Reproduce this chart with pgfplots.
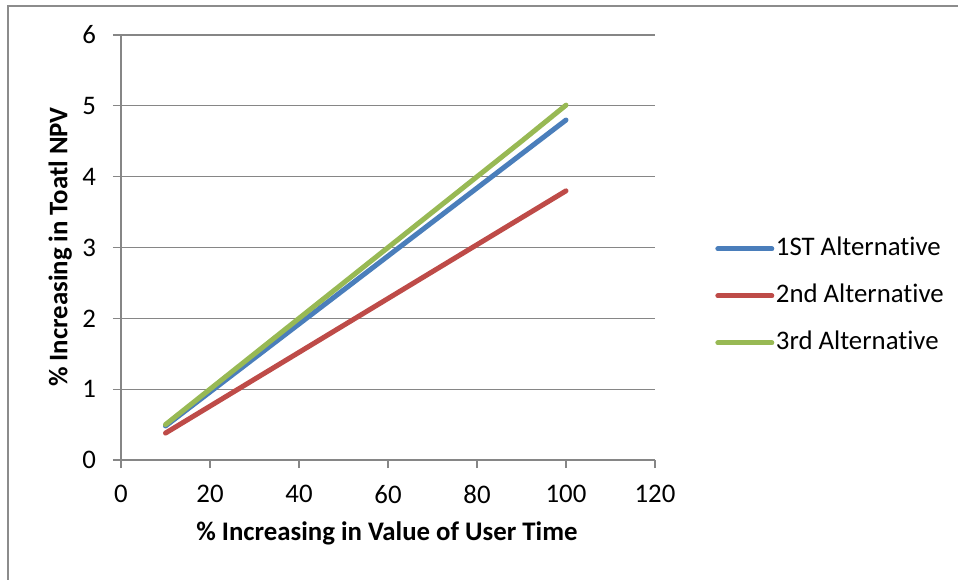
\documentclass[border=0pt]{standalone}
\usepackage{pgfplots}
\pgfplotsset{compat=1.18}
\usepackage{fontspec}
\setmainfont{Carlito}[Ligatures=NoCommon]

\definecolor{axisgray}{HTML}{868686}
\definecolor{frame}{HTML}{8C8C8C}
\definecolor{altone}{HTML}{4A7EBB}
\definecolor{alttwo}{HTML}{BE4B48}
\definecolor{altthree}{HTML}{98B954}

\pgfplotstableread{
x   a1    a2    a3
10  0.48  0.38  0.50
20  0.96  0.76  1.00
30  1.44  1.14  1.50
40  1.92  1.52  2.00
50  2.40  1.90  2.50
60  2.88  2.28  3.00
70  3.36  2.66  3.50
80  3.84  3.04  4.00
90  4.32  3.42  4.50
100 4.80  3.80  5.01
}\npvdata

\newcommand{\chartfont}{\fontsize{13.4}{16}\selectfont}

\begin{document}
\begin{tikzpicture}
% page area and chart frame (left and top edges)
\useasboundingbox (0,0) rectangle (479pt,-289.5pt);
\draw[frame, line width=0.6pt] (4pt,-300pt) -- (4pt,-3pt) -- (490pt,-3pt);
\begin{axis}[
  at={(60.5pt,-230pt)}, anchor=south west,
  scale only axis,
  width=267pt, height=212.5pt,
  xmin=0, xmax=120, ymin=0, ymax=6,
  xtick={0,20,...,120}, ytick={0,1,...,6},
  axis x line*=bottom, axis y line*=left,
  axis line style={axisgray, line width=0.6pt, -},
  tick style={axisgray, line width=0.6pt},
  tick align=outside, major tick length=4pt,
  ymajorgrids, grid style={axisgray, line width=0.6pt},
  /pgf/number format/assume math mode=true,
  ticklabel style={font=\chartfont},
  yticklabel style={anchor=east, xshift=-5pt},
  xticklabel style={anchor=north, yshift=-5pt},
  xlabel={\bfseries \% Increasing in Value of User Time},
  ylabel={\bfseries \% Increasing in Toatl NPV},
  xlabel style={at={(axis description cs:0.498,-0.172)}, anchor=center},
  ylabel style={at={(axis description cs:-0.114,0.501)}, anchor=center, rotate=0},
  label style={font=\chartfont},
  legend cell align=left,
  legend style={draw=none, fill=none, at={(axis description cs:1.101,0.386)}, anchor=west,
    font=\chartfont,
    nodes={inner sep=0.8pt, text height=9.5pt, text depth=3pt},
    row sep=9.4pt},
  legend image code/.code={\draw[#1, line cap=round] (0pt,0pt) -- (27pt,0pt);},
  every axis plot/.append style={line width=2.5pt, line cap=round, line join=round, mark=none},
  clip=false,
]
\addplot[altone] table[x=x, y=a1] {\npvdata};
\addplot[alttwo] table[x=x, y=a2] {\npvdata};
\addplot[altthree] table[x=x, y=a3] {\npvdata};
\legend{1ST Alternative, 2nd Alternative, 3rd Alternative}
\end{axis}
\end{tikzpicture}
\end{document}
